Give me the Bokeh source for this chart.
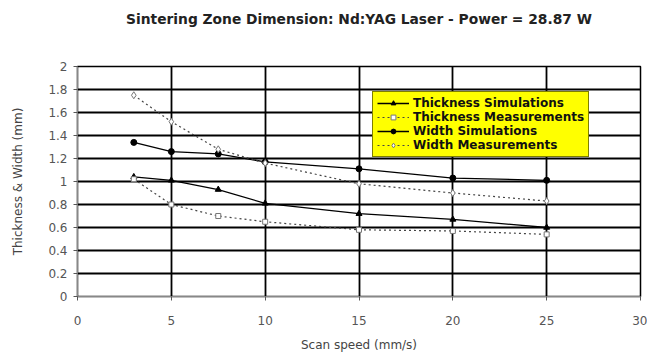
from bokeh.plotting import figure
from bokeh.models import Range1d, Legend, LegendItem, FixedTicker, Title
from bokeh.embed import file_html
from bokeh.resources import INLINE

speed = [3, 5, 7.5, 10, 15, 20, 25]
thick_sim = [1.04, 1.01, 0.93, 0.81, 0.72, 0.67, 0.60]
thick_meas = [1.02, 0.80, 0.70, 0.65, 0.58, 0.57, 0.54]
width_sim = [1.34, 1.26, 1.24, 1.17, 1.11, 1.03, 1.01]
width_meas = [1.75, 1.52, 1.28, 1.16, 0.98, 0.90, 0.83]

x_ticks = [0, 5, 10, 15, 20, 25, 30]
y_ticks = [0, 0.2, 0.4, 0.6, 0.8, 1.0, 1.2, 1.4, 1.6, 1.8, 2.0]
y_labels = {0: "0", 0.2: "0.2", 0.4: "0.4", 0.6: "0.6", 0.8: "0.8", 1.0: "1",
            1.2: "1.2", 1.4: "1.4", 1.6: "1.6", 1.8: "1.8", 2.0: "2"}

TITLE = "Sintering Zone Dimension: Nd:YAG Laser - Power = 28.87 W"
FONT = "DejaVu Sans"

p = figure(width=647, height=356, output_backend="svg", toolbar_location=None,
           title=None,
           x_range=Range1d(0, 30), y_range=Range1d(0, 2),
           min_border_left=77, min_border_right=7, min_border_top=0, min_border_bottom=60)

# blank spacer (closest to plot) then the real title above it
spacer = Title(text=" ", text_font=FONT, text_font_size="12px", text_color="white", standoff=16)
p.add_layout(spacer, "above")
main_title = Title(text=TITLE, align="center", text_font=FONT, text_font_size="13.8px",
                   text_font_style="bold", text_color="#222222", standoff=16)
p.add_layout(main_title, "above")

p.outline_line_color = "black"
p.outline_line_width = 1.5

for ax in (p.xaxis[0], p.yaxis[0]):
    ax.axis_line_color = "#888888"
    ax.major_tick_line_color = "#555555"
    ax.minor_tick_line_color = None
    ax.major_label_text_font = FONT
    ax.major_label_text_font_size = "12px"
    ax.major_label_text_color = "#555555"
    ax.axis_label_text_font = FONT
    ax.axis_label_text_font_size = "12px"
    ax.axis_label_text_font_style = "normal"
    ax.axis_label_text_color = "#444444"
    ax.major_tick_out = 4
    ax.major_tick_in = 0

p.xaxis.ticker = FixedTicker(ticks=x_ticks)
p.yaxis.ticker = FixedTicker(ticks=y_ticks)
p.yaxis.major_label_overrides = y_labels
p.xaxis.axis_label = "Scan speed (mm/s)"
p.yaxis.axis_label = "Thickness & Width (mm)"
p.xaxis.major_label_standoff = 15
p.xaxis.axis_label_standoff = 10
p.yaxis.major_label_standoff = 6
p.yaxis.axis_label_standoff = 20

p.xgrid.ticker = FixedTicker(ticks=x_ticks)
p.ygrid.ticker = FixedTicker(ticks=y_ticks)
p.xgrid.grid_line_color = "black"
p.ygrid.grid_line_color = "black"
p.xgrid.grid_line_width = 1.8
p.ygrid.grid_line_width = 1.8

r1l = p.line(speed, thick_sim, line_color="black", line_width=1.3)
r1m = p.scatter(speed, thick_sim, marker="triangle", size=6, fill_color="black", line_color="black")
r2l = p.line(speed, thick_meas, line_color="#444444", line_width=1.2, line_dash="2 3")
r2m = p.scatter(speed, thick_meas, marker="square", size=5, fill_color="white", line_color="#777777")
r3l = p.line(speed, width_sim, line_color="black", line_width=1.3)
r3m = p.scatter(speed, width_sim, marker="circle", size=6, fill_color="black", line_color="black")
r4l = p.line(speed, width_meas, line_color="#444444", line_width=1.2, line_dash="2 3")
r4m = p.scatter(speed, width_meas, marker="diamond", size=7, fill_color="white", line_color="#777777")

legend = Legend(items=[
    LegendItem(label="Thickness Simulations", renderers=[r1l, r1m]),
    LegendItem(label="Thickness Measurements", renderers=[r2l, r2m]),
    LegendItem(label="Width Simulations", renderers=[r3l, r3m]),
    LegendItem(label="Width Measurements", renderers=[r4l, r4m]),
], location=(295, 139))
legend.background_fill_color = "#ffff00"
legend.background_fill_alpha = 1
legend.border_line_color = "black"
legend.border_line_width = 1.5
legend.label_text_font = FONT
legend.label_text_font_size = "12px"
legend.label_text_font_style = "bold"
legend.label_text_color = "#111111"
legend.label_height = 12
legend.glyph_height = 12
legend.glyph_width = 32
legend.spacing = 0
legend.padding = 4
legend.margin = 0
legend.label_standoff = 4
p.add_layout(legend, "center")

open("out.html", "w").write(file_html(p, INLINE))
